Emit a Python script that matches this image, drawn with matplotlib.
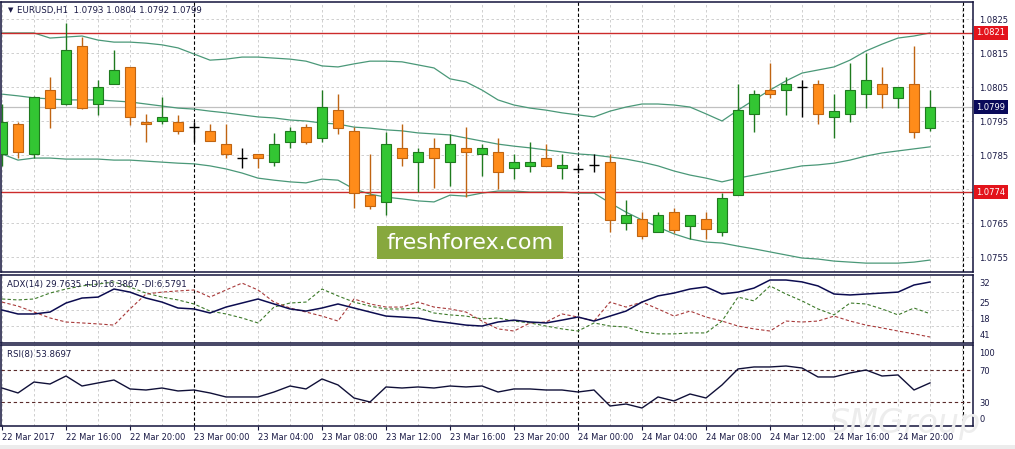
import matplotlib
matplotlib.use('Agg')
import matplotlib.pyplot as plt
from matplotlib.patches import Rectangle
import numpy as np

W, H = 1015, 449

# ---------------- data ----------------
header_text = "EURUSD,H1  1.0793 1.0804 1.0792 1.0799"
adx_title = "ADX(14) 29.7635 +DI:16.3867 -DI:6.5791"
rsi_title = "RSI(8) 53.8697"

time_labels = ["22 Mar 2017", "22 Mar 16:00", "22 Mar 20:00", "23 Mar 00:00",
               "23 Mar 04:00", "23 Mar 08:00", "23 Mar 12:00", "23 Mar 16:00",
               "23 Mar 20:00", "24 Mar 00:00", "24 Mar 04:00", "24 Mar 08:00",
               "24 Mar 12:00", "24 Mar 16:00", "24 Mar 20:00"]
label_every = 4

opens = [1.07853, 1.07941, 1.07853, 1.08041, 1.08000, 1.08171, 1.08000, 1.08059, 1.08109, 1.07947,
         1.07950, 1.07947, 1.07932, 1.07921, 1.07882, 1.07841, 1.07853, 1.07829, 1.07888, 1.07932,
         1.07900, 1.07982, 1.07921, 1.07732, 1.07712, 1.07871, 1.07829, 1.07871, 1.07829, 1.07871,
         1.07853, 1.07859, 1.07812, 1.07818, 1.07841, 1.07812, 1.07809, 1.07821, 1.07829, 1.07650,
         1.07662, 1.07624, 1.07682, 1.07641, 1.07662, 1.07624, 1.07732, 1.07971, 1.08041, 1.08041,
         1.08050, 1.08059, 1.07962, 1.07971, 1.08029, 1.08059, 1.08018, 1.08059, 1.07930]
highs = [1.08000, 1.07947, 1.08024, 1.08079, 1.08238, 1.08197, 1.08071, 1.08159, 1.08109, 1.07971,
         1.08021, 1.07968, 1.07947, 1.07941, 1.07941, 1.07871, 1.07853, 1.07915, 1.07932, 1.07941,
         1.08041, 1.08029, 1.07932, 1.07853, 1.07918, 1.07941, 1.07871, 1.07900, 1.07912, 1.07932,
         1.07882, 1.07900, 1.07853, 1.07888, 1.07882, 1.07853, 1.07821, 1.07853, 1.07853, 1.07718,
         1.07682, 1.07682, 1.07694, 1.07674, 1.07682, 1.07738, 1.08059, 1.08041, 1.08121, 1.08079,
         1.08071, 1.08071, 1.08029, 1.08121, 1.08150, 1.08109, 1.08050, 1.08171, 1.08040]
lows = [1.07818, 1.07841, 1.07841, 1.07929, 1.07997, 1.07985, 1.07968, 1.08059, 1.07938, 1.07888,
        1.07941, 1.07912, 1.07888, 1.07891, 1.07841, 1.07812, 1.07812, 1.07818, 1.07871, 1.07882,
        1.07888, 1.07912, 1.07694, 1.07691, 1.07674, 1.07818, 1.07741, 1.07753, 1.07759, 1.07726,
        1.07788, 1.07750, 1.07779, 1.07800, 1.07818, 1.07779, 1.07797, 1.07800, 1.07624, 1.07629,
        1.07603, 1.07624, 1.07621, 1.07603, 1.07603, 1.07612, 1.07732, 1.07918, 1.08018, 1.07968,
        1.07962, 1.07941, 1.07900, 1.07947, 1.07988, 1.07988, 1.07988, 1.07900, 1.07920]
closes = [1.07947, 1.07859, 1.08021, 1.07988, 1.08159, 1.07988, 1.08050, 1.08100, 1.07962, 1.07941,
          1.07962, 1.07921, 1.07932, 1.07891, 1.07853, 1.07841, 1.07841, 1.07882, 1.07921, 1.07888,
          1.07991, 1.07929, 1.07738, 1.07700, 1.07882, 1.07841, 1.07859, 1.07841, 1.07882, 1.07859,
          1.07871, 1.07800, 1.07829, 1.07829, 1.07818, 1.07821, 1.07809, 1.07821, 1.07659, 1.07674,
          1.07612, 1.07674, 1.07629, 1.07674, 1.07632, 1.07724, 1.07982, 1.08029, 1.08029, 1.08059,
          1.08050, 1.07971, 1.07979, 1.08041, 1.08071, 1.08029, 1.08050, 1.07918, 1.07990]

bb_upper = [1.08209, 1.08209, 1.08209, 1.08194, 1.08197, 1.08200, 1.08188, 1.08182, 1.08182, 1.08179,
            1.08174, 1.08165, 1.08147, 1.08129, 1.08132, 1.08138, 1.08138, 1.08135, 1.08132, 1.08126,
            1.08112, 1.08109, 1.08118, 1.08126, 1.08126, 1.08124, 1.08115, 1.08106, 1.08074, 1.08065,
            1.08041, 1.08012, 1.07997, 1.07988, 1.07982, 1.07974, 1.07968, 1.07962, 1.07979, 1.07991,
            1.08000, 1.08000, 1.07997, 1.07991, 1.07971, 1.07950, 1.07982, 1.08012, 1.08041, 1.08068,
            1.08091, 1.08100, 1.08109, 1.08129, 1.08156, 1.08176, 1.08194, 1.08200, 1.08209]
bb_mid = [1.08029, 1.08024, 1.08018, 1.08015, 1.08012, 1.08012, 1.08012, 1.08009, 1.08006, 1.08000,
          1.07994, 1.07988, 1.07985, 1.07979, 1.07974, 1.07968, 1.07962, 1.07959, 1.07953, 1.07950,
          1.07944, 1.07941, 1.07932, 1.07929, 1.07924, 1.07921, 1.07915, 1.07912, 1.07909, 1.07900,
          1.07891, 1.07882, 1.07876, 1.07871, 1.07865, 1.07859, 1.07853, 1.07850, 1.07844, 1.07838,
          1.07829, 1.07818, 1.07803, 1.07791, 1.07782, 1.07771, 1.07782, 1.07791, 1.07800, 1.07809,
          1.07818, 1.07821, 1.07826, 1.07835, 1.07847, 1.07856, 1.07862, 1.07868, 1.07874]
bb_lower = [1.07853, 1.07835, 1.07841, 1.07841, 1.07838, 1.07838, 1.07838, 1.07835, 1.07835, 1.07832,
            1.07829, 1.07826, 1.07824, 1.07818, 1.07809, 1.07797, 1.07782, 1.07776, 1.07771, 1.07768,
            1.07779, 1.07776, 1.07750, 1.07735, 1.07726, 1.07721, 1.07715, 1.07712, 1.07732, 1.07729,
            1.07738, 1.07744, 1.07744, 1.07741, 1.07741, 1.07741, 1.07738, 1.07738, 1.07709, 1.07682,
            1.07659, 1.07638, 1.07618, 1.07603, 1.07594, 1.07591, 1.07582, 1.07574, 1.07565, 1.07556,
            1.07547, 1.07544, 1.07538, 1.07535, 1.07532, 1.07532, 1.07532, 1.07535, 1.07541]

level_lines = [1.0821, 1.0774]
last_price = 1.0799
price_ticks = [1.0825, 1.0815, 1.0805, 1.0795, 1.0785, 1.0765, 1.0755]
grid_prices = [1.0825, 1.0815, 1.0805, 1.0795, 1.0785, 1.0775, 1.0765, 1.0755]

adx = [17.96, 16.28, 16.28, 17.1, 20.9, 23.0, 23.4, 26.8, 25.5, 23.0,
       21.3, 18.8, 18.4, 16.7, 19.2, 20.9, 22.6, 20.5, 18.4, 17.5,
       18.8, 20.5, 18.8, 17.1, 15.4, 15.0, 14.6, 13.3, 12.5, 11.6,
       11.2, 12.9, 13.7, 12.9, 12.5, 13.7, 15.0, 13.3, 15.4, 17.5,
       21.3, 23.9, 25.1, 26.8, 27.7, 24.7, 25.5, 27.2, 30.6, 30.6,
       29.8, 28.1, 24.7, 24.3, 24.7, 25.1, 25.5, 28.5, 29.76]
plus_di = [22.6, 22.2, 22.6, 25.1, 26.8, 28.1, 28.9, 29.8, 27.6, 25.1,
           23.4, 22.2, 20.5, 17.5, 16.3, 14.6, 12.5, 19.2, 20.9, 21.3,
           26.8, 23.9, 21.3, 19.6, 18.4, 18.4, 18.8, 16.7, 15.9, 15.4,
           14.2, 14.6, 13.3, 12.5, 11.2, 10.0, 9.1, 12.5, 11.2, 10.8,
           8.7, 7.9, 7.9, 8.3, 8.3, 13.3, 23.4, 21.8, 28.1, 24.7,
           21.8, 18.4, 15.9, 20.9, 20.5, 18.4, 15.9, 18.8, 16.39]
minus_di = [21.3, 19.6, 17.1, 14.6, 12.9, 12.5, 12.1, 11.6, 18.4, 24.7,
            25.5, 26.0, 26.4, 23.4, 26.4, 29.3, 26.4, 21.3, 18.8, 17.1,
            15.4, 13.3, 22.6, 20.5, 19.2, 19.2, 21.3, 19.2, 18.4, 17.1,
            13.3, 10.0, 9.1, 12.5, 12.9, 16.3, 15.0, 13.3, 21.3, 19.2,
            21.3, 18.4, 15.4, 17.5, 15.0, 13.3, 11.2, 10.0, 9.1, 13.3,
            12.9, 13.3, 15.4, 13.3, 11.6, 10.4, 9.1, 7.9, 6.58]
adx_tick_labels = ["32", "25", "18", "41"]

rsi = [47.5, 41.3, 55.0, 52.5, 62.5, 50.0, 53.8, 57.5, 46.3, 45.0,
       47.5, 43.8, 45.0, 41.3, 36.3, 36.3, 36.3, 42.5, 50.0, 46.3,
       58.8, 51.3, 35.0, 30.0, 48.8, 47.5, 48.8, 47.5, 50.0, 48.8,
       50.0, 42.5, 46.3, 46.3, 45.0, 45.0, 42.5, 45.0, 25.0, 27.5,
       22.5, 36.3, 31.3, 40.0, 35.0, 51.3, 71.3, 73.8, 73.8, 75.0,
       72.5, 61.3, 61.3, 66.3, 70.0, 62.5, 63.8, 45.0, 53.87]
rsi_levels = [70, 30]
rsi_tick_labels = ["100", "70", "30", "0"]

# ---------------- style ----------------
plt.rcParams['font.family'] = ['DejaVu Sans']
NAVY = '#14143c'
TXT = '#1a1a46'
GRID = '#c8c8c8'
BULL_F, BULL_E = '#33c633', '#1f7a1f'
BEAR_F, BEAR_E = '#ff8c1a', '#bf6412'
BAND = '#4a9878'

fig = plt.figure(figsize=(W / 100, H / 100), dpi=100)
fig.patch.set_facecolor('white')


def rect(l, t, r, b):
    return [l / W, 1 - b / H, (r - l) / W, (b - t) / H]


ax = fig.add_axes(rect(1, 2, 973, 272))
ax2 = fig.add_axes(rect(1, 275, 973, 343))
ax3 = fig.add_axes(rect(1, 345, 973, 426))

n = len(opens)
x = np.arange(n)
xlim = (-1 / 16, 971 / 16)

label_idx = list(range(0, n, label_every))[:len(time_labels)]
day_sep = [i for i, lab in zip(label_idx, time_labels) if lab.endswith("00:00")]
shift_x = 60.06

for a in (ax, ax2, ax3):
    a.set_xlim(*xlim)
    a.set_facecolor('white')
    for s in a.spines.values():
        s.set_color(NAVY)
        s.set_linewidth(1.1)
    for gx in range(0, n + 2, 2):
        if gx in day_sep:
            continue
        a.axvline(gx, color=GRID, lw=0.6, ls=(0, (3, 3)), zorder=0.5)
    for d in day_sep:
        a.axvline(d, color='black', lw=0.8, ls=(0, (3, 2)), zorder=1)
    a.axvline(shift_x, color='black', lw=0.8, ls=(0, (3, 2)), zorder=1)
    a.yaxis.tick_right()
    a.tick_params(axis='y', length=0, pad=4.5, labelsize=6, colors=TXT)
    a.tick_params(axis='x', bottom=False, labelbottom=False)

# ---------------- main panel ----------------
ax.set_ylim(1.075059, 1.0830)
ax.set_yticks(price_ticks)
ax.set_yticklabels([f"{p:.4f}" for p in price_ticks])
for p in grid_prices:
    ax.axhline(p, color=GRID, lw=0.6, ls=(0, (3, 3)), zorder=0.5)
ax.axhline(last_price, color='#c0c0c0', lw=0.9, zorder=0.6)

for lv in level_lines:
    ax.axhline(lv, color='#cc2b2b', lw=1.0, zorder=2.5)

ax.plot(x, bb_upper, color=BAND, lw=0.9, zorder=2)
ax.plot(x, bb_mid, color=BAND, lw=0.9, zorder=2)
ax.plot(x, bb_lower, color=BAND, lw=0.9, zorder=2)

o = np.array(opens); c = np.array(closes); h = np.array(highs); l = np.array(lows)
doji = np.isclose(o, c)
bull = (c > o) & ~doji
bear = (c < o) & ~doji
wick_cols = np.where(bull, BULL_E, np.where(bear, BEAR_E, 'black'))
ax.vlines(x, l, h, colors=list(wick_cols), lw=1.0, zorder=3)
bw = 0.62
ax.bar(x[bull], (c - o)[bull], bottom=o[bull], width=bw, color=BULL_F,
       edgecolor=BULL_E, linewidth=0.8, zorder=4)
ax.bar(x[bear], (o - c)[bear], bottom=c[bear], width=bw, color=BEAR_F,
       edgecolor=BEAR_E, linewidth=0.8, zorder=4)
ax.hlines(c[doji], x[doji] - bw / 2, x[doji] + bw / 2, colors='black', lw=1.0, zorder=4)

ytr = ax.get_yaxis_transform()
for lv in level_lines:
    ax.text(1.0035, lv, f"{lv:.4f}", transform=ytr, ha='left', va='center', fontsize=6,
            color='white', zorder=10, clip_on=False,
            bbox=dict(boxstyle='square,pad=0.3', fc='#e3131b', ec='none'))
ax.text(1.0035, last_price, f"{last_price:.4f}", transform=ytr, ha='left', va='center',
        fontsize=6, color='white', zorder=10, clip_on=False,
        bbox=dict(boxstyle='square,pad=0.3', fc='#0a0a5a', ec='none'))

ax.text(7 / 972, 1 - 8 / 270, "\u25bc", transform=ax.transAxes, fontsize=5, color=TXT,
        ha='left', va='center')
ax.text(16 / 972, 1 - 8.5 / 270, header_text, transform=ax.transAxes, fontsize=6.2, color=TXT,
        ha='left', va='center')

# watermark box
fig.add_artist(Rectangle((377 / W, 1 - 259 / H), 186 / W, 33 / H, transform=fig.transFigure,
                         facecolor='#87a83e', edgecolor='none', zorder=5))
fig.text(470 / W, 1 - 243 / H, "freshforex.com", ha='center', va='center', fontsize=16,
         color='white', zorder=6)

# ---------------- ADX panel ----------------
adx_top, adx_bot = 29.76 + 7 / 2.373, 29.76 - 61 / 2.373
ax2.set_ylim(adx_bot, adx_top)
adx_tick_pos = [29.76 - (py - 282) / 2.373 for py in (283, 302, 318, 335)]
ax2.set_yticks(adx_tick_pos)
ax2.set_yticklabels(adx_tick_labels)
for py in (292, 310, 326):
    ax2.axhline(29.76 - (py - 282) / 2.373, color=GRID, lw=0.6, ls=(0, (3, 3)), zorder=0.5)
ax2.plot(x, plus_di, color='#3d7a2a', lw=0.8, ls=(0, (3, 2)), zorder=2)
ax2.plot(x, minus_di, color='#a83a3a', lw=0.8, ls=(0, (3, 2)), zorder=2)
ax2.plot(x, adx, color='#0c0c50', lw=1.1, zorder=3)
ax2.text(6 / 972, 1 - 10 / 68, adx_title, transform=ax2.transAxes, fontsize=6.2, color=TXT,
         ha='left', va='center', zorder=5)

# ---------------- RSI panel ----------------
ax3.set_ylim(0, 101.25)
ax3.set_yticks([70 - (py - 370) / 0.8 for py in (352.5, 370, 402, 419)])
ax3.set_yticklabels(rsi_tick_labels)
for lv in rsi_levels:
    ax3.axhline(lv, color='#5a2a2a', lw=0.8, ls=(0, (3, 2.5)), zorder=1)
ax3.plot(x, rsi, color='#101038', lw=1.0, zorder=3)
ax3.text(6 / 972, 1 - 9 / 81, rsi_title, transform=ax3.transAxes, fontsize=6.2, color=TXT,
         ha='left', va='center', zorder=5)

ax3.set_xticks(label_idx)
ax3.set_xticklabels(time_labels)
ax3.tick_params(axis='x', bottom=True, labelbottom=True, length=3, width=0.8, colors=NAVY,
                labelsize=6, pad=2, labelcolor=TXT)
for lbl in ax3.get_xticklabels():
    lbl.set_ha('left')

# faint bottom watermark and strip
fig.text(905 / W, 1 - 424 / H, "SMGroup", ha='center', va='center', fontsize=24,
         style='italic', color='#ededed', zorder=0.1)
fig.add_artist(Rectangle((0, 0), 1, 4 / H, transform=fig.transFigure,
                         facecolor='#ececec', edgecolor='none', zorder=0.2))

fig.savefig('out.png', dpi=100, facecolor='white')
